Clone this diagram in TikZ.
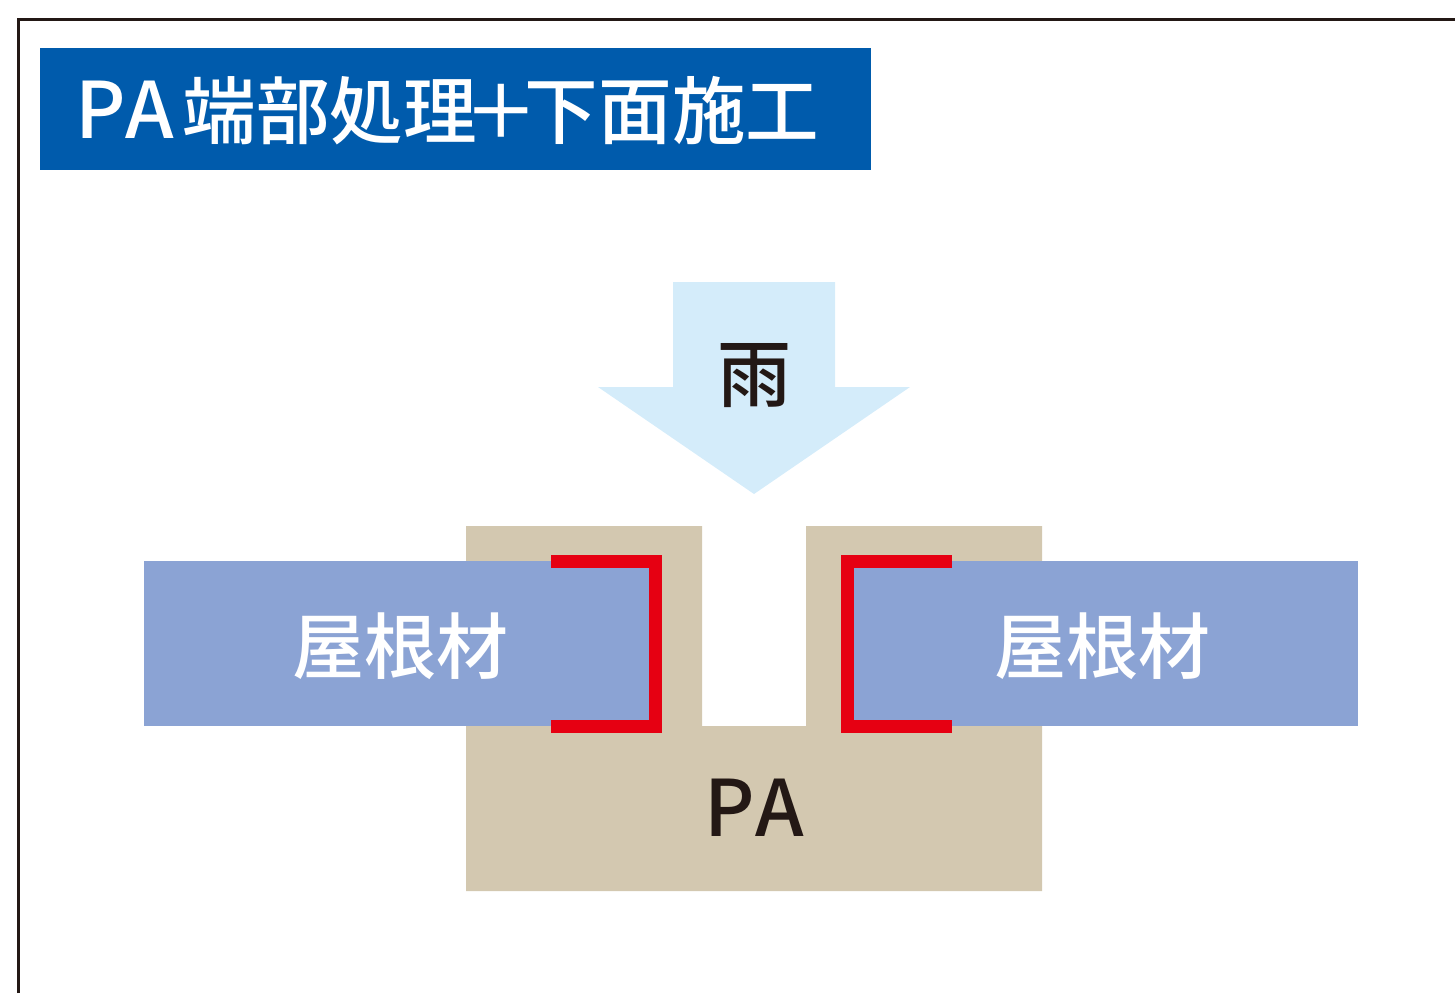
\documentclass[tikz,border=0pt]{standalone}
\usepackage{fontspec}
\setmainfont[UprightFont=* Medium]{Noto Sans CJK JP}
\newcommand{\pawide}{\fontsize{39}{39}\selectfont P\kern0pt A}
\definecolor{titleblue}{HTML}{005BAC}
\definecolor{rainblue}{HTML}{D4ECFA}
\definecolor{roofblue}{HTML}{8BA3D4}
\definecolor{pasand}{HTML}{D3C8B0}
\definecolor{sealred}{HTML}{E60012}
\definecolor{inkdark}{HTML}{231815}
\tikzset{
    wordnode/.style={inner sep=0pt,text=white,font=\fontsize{36}{36}\selectfont},
    darknode/.style={inner sep=0pt,text=inkdark,font=\fontsize{37}{37}\selectfont},
    sealline/.style={draw=sealred,line width=6.5pt,line cap=butt,miter limit=10}
}
\begin{document}
\begin{tikzpicture}[x=0.5pt,y=-0.5pt]
    \useasboundingbox (0,0) rectangle (1455,993);
    % frame
    \draw[inkdark,line width=1.25pt] (18.5,993) -- (18.5,19.5) -- (1455,19.5);
    % title
    \fill[titleblue] (40,48) rectangle (871,170);
    \node[wordnode,font=\fontsize{36.8}{36.8}\selectfont,anchor=base west] (title) at (75,138) {{\pawide}\hspace{4pt}端部処理\hspace{-6pt}＋\hspace{-6.8pt}下面施工};
    % rain arrow
    \fill[rainblue] (673,282) -- (835,282) -- (835,387) -- (910,387) -- (754,494) -- (598,387) -- (673,387) -- cycle;
    \node[darknode] (rain) at (754,376) {雨};
    % PA body
    \fill[pasand] (466,526) -- (702,526) -- (702,726) -- (806,726) -- (806,526) -- (1042,526) -- (1042,891) -- (466,891) -- cycle;
    \node[darknode] (pa) at (754,808) {\pawide};
    % roof panels
    \fill[roofblue] (144,561) rectangle (656,726);
    \fill[roofblue] (847,561) rectangle (1358,726);
    \node[wordnode] (roofl) at (400,646) {屋根材};
    \node[wordnode] (roofr) at (1102,646) {屋根材};
    % red seals
    \draw[sealline] (551,561) -- (655.5,561) -- (655.5,726) -- (551,726);
    \draw[sealline] (952,561) -- (847,561) -- (847,726) -- (952,726);
\end{tikzpicture}
\end{document}
